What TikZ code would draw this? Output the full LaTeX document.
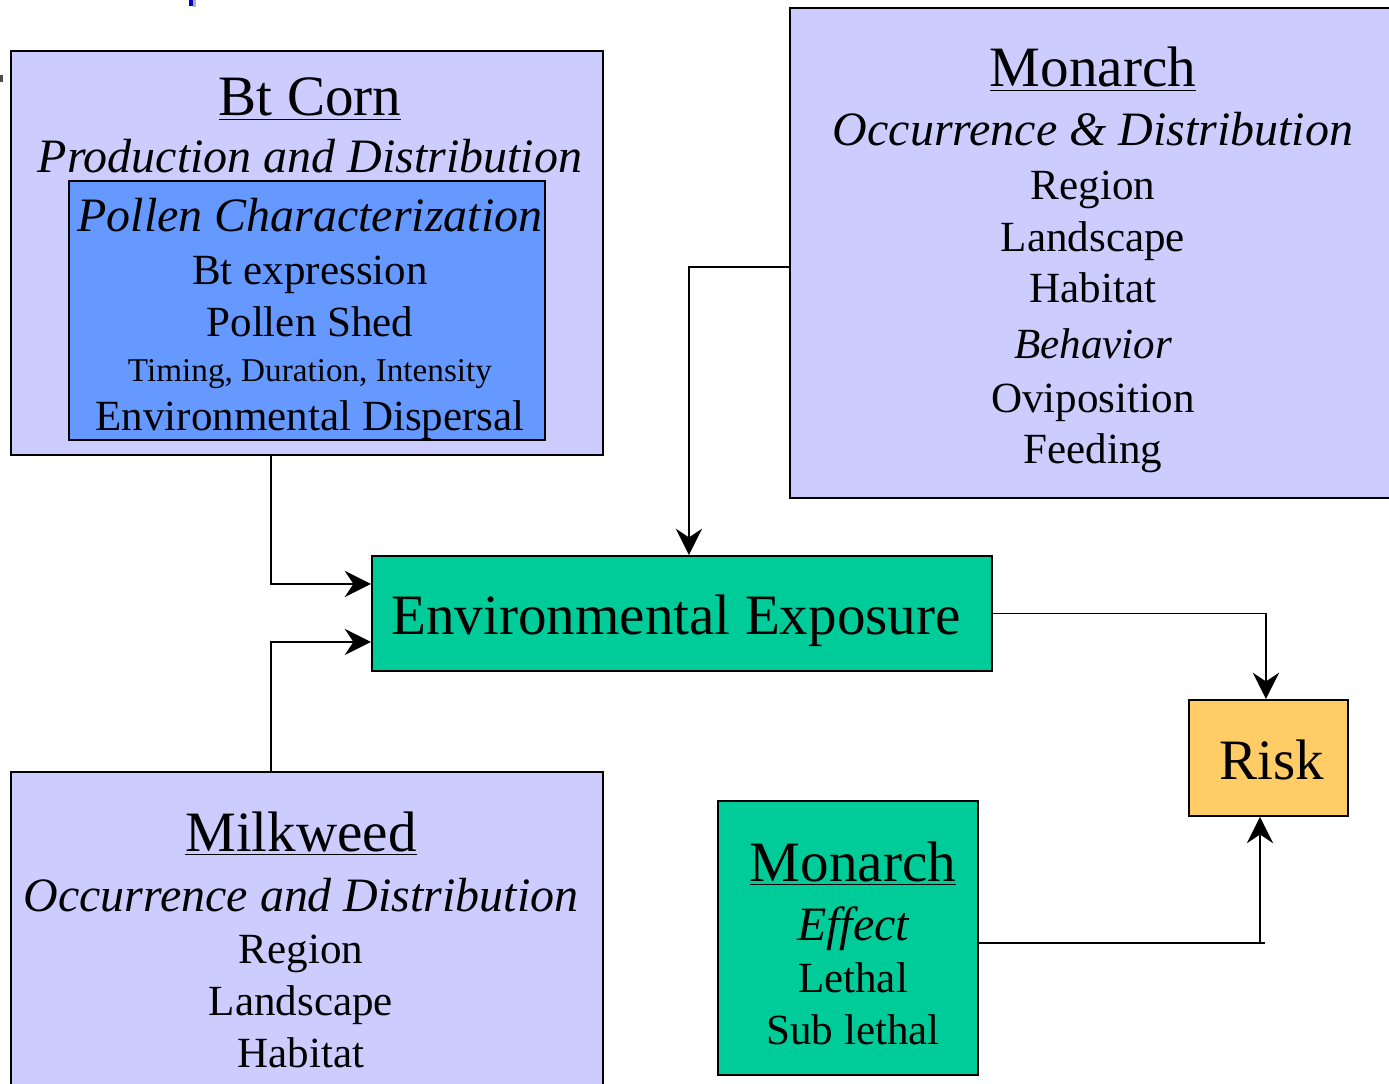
\documentclass[tikz,border=0pt]{standalone}
\usepackage{fontspec}
\setmainfont{Liberation Serif}
\usetikzlibrary{positioning,arrows.meta}

\definecolor{lilac}{HTML}{CCCCFF}
\definecolor{cornblue}{HTML}{6699FF}
\definecolor{seagreen}{HTML}{00CC99}
\definecolor{riskgold}{HTML}{FFCC66}

\newcommand{\titlesz}{\fontsize{32.5}{36}\selectfont}
\newcommand{\subsz}{\fontsize{27.3}{30}\selectfont}
\newcommand{\linesz}{\fontsize{24.5}{28}\selectfont}
\newcommand{\smallsz}{\fontsize{18.9}{22}\selectfont}

\tikzset{
  box/.style={draw=black, line width=1.1pt, anchor=north west, inner sep=0pt},
  txt/.style={anchor=base, inner sep=0pt},
  conn/.style={line width=1pt, -{Stealth[length=15pt,width=15pt,inset=5pt]}},
}

\begin{document}
\begin{tikzpicture}[x=0.02cm, y=-0.02cm]
         \useasboundingbox (0,0) rectangle (1389,1084);
         \clip (0,0) rectangle (1389,1084);
         % stray marks
         \fill[gray!60] (193,0) rectangle (196,7);
         \fill[blue!80!black] (189,0) rectangle (193,6);
         \fill[black!70] (0,75) rectangle (3,82);

         % boxes
         \node[box, fill=lilac, minimum width=11.84cm, minimum height=8.08cm] (btcorn) at (10,50) {};
         \node[box, fill=cornblue, minimum width=9.52cm, minimum height=5.18cm] (pollen) at (68,180) {};
         \node[box, fill=seagreen, minimum width=12.4cm, minimum height=2.3cm] (exposure) at (371,555) {};
         \node[box, fill=lilac, minimum width=13cm, minimum height=9.8cm] (monarch) at (789,7) {};
         \node[box, fill=lilac, minimum width=11.84cm, minimum height=6.8cm] (milkweed) at (10,771) {};
         \node[box, fill=seagreen, minimum width=5.2cm, minimum height=5.48cm] (effect) at (717,800) {};
         \node[box, fill=riskgold, minimum width=3.18cm, minimum height=2.32cm] (risk) at (1188,699) {};

         % Bt corn
         \node[txt] (btT) at (310,116) {\titlesz\underline{Bt Corn}};
         \node[txt] (btS) at (310,173) {\subsz\itshape Production and Distribution};
         \node[txt] (poT) at (310,232) {\subsz\itshape Pollen Characterization};
         \node[txt] (po1) at (310,285) {\linesz Bt expression};
         \node[txt] (po2) at (310,337) {\linesz Pollen Shed};
         \node[txt] (po3) at (310,381) {\smallsz Timing, Duration, Intensity};
         \node[txt] (po4) at (310,430) {\linesz Environmental Dispersal};

         % monarch occurrence
         \node[txt] (moT) at (1093,87) {\titlesz\underline{Monarch}};
         \node[txt] (moS) at (1093,146) {\subsz\itshape Occurrence \& Distribution};
         \node[txt] (mo1) at (1093,200) {\linesz Region};
         \node[txt] (mo2) at (1093,252) {\linesz Landscape};
         \node[txt] (mo3) at (1093,303) {\linesz Habitat};
         \node[txt] (mo4) at (1093,358) {\linesz\itshape Behavior};
         \node[txt] (mo5) at (1093,412) {\linesz Oviposition};
         \node[txt] (mo6) at (1093,463) {\linesz Feeding};

         % milkweed
         \node[txt] (mwT) at (301,851) {\titlesz\underline{Milkweed}};
         \node[txt] (mwS) at (301,911) {\subsz\itshape Occurrence and Distribution};
         \node[txt] (mw1) at (301,963) {\linesz Region};
         \node[txt] (mw2) at (301,1015) {\linesz Landscape};
         \node[txt] (mw3) at (301,1067) {\linesz Habitat};

         % effect
         \node[txt] (efT) at (853,881) {\titlesz\underline{Monarch}};
         \node[txt] (efS) at (853,940) {\subsz\itshape Effect};
         \node[txt] (ef1) at (853,992) {\linesz Lethal};
         \node[txt] (ef2) at (853,1044) {\linesz Sub lethal};

         \node[txt] (exT) at (676,634) {\titlesz Environmental Exposure};
         \node[txt] (rkT) at (1272,779) {\titlesz Risk};

         % connectors
         \draw[conn] ([xshift=-0.72cm]btcorn.south) |- ([yshift=0.59cm]exposure.west);
         \draw[conn] ([xshift=-0.72cm]milkweed.north) |- ([yshift=-0.57cm]exposure.west);
         \draw[conn] ([yshift=-0.28cm]monarch.west) -| ([xshift=0.14cm]exposure.north);
         \draw[conn] (exposure.east) -| ([xshift=-0.05cm]risk.north);
         \coordinate (join) at (1260,943);
         \draw[line width=1pt] (effect.east |- join) -- ([xshift=0.1cm]join);
         \draw[conn] (join) -- (join |- risk.south);
\end{tikzpicture}
\end{document}
